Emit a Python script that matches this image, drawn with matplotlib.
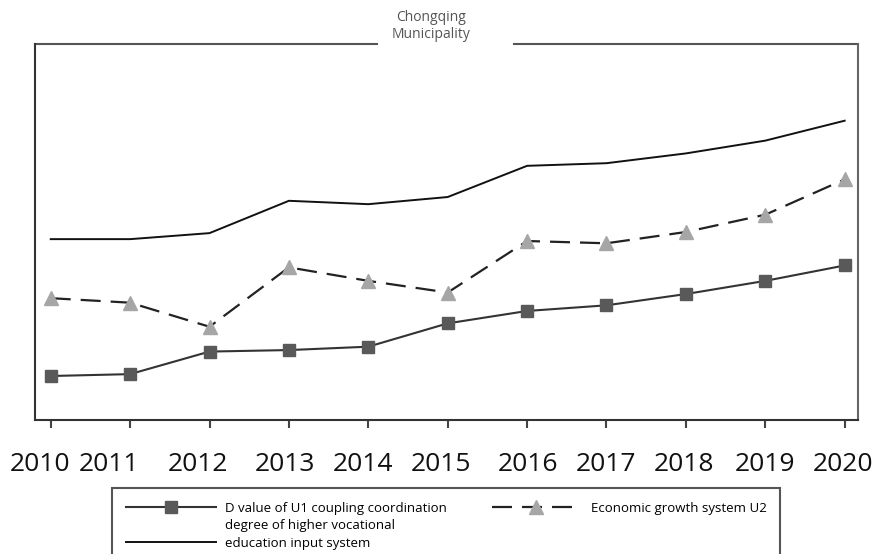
import numpy as np
import matplotlib
matplotlib.use("Agg")
import matplotlib.pyplot as plt
import matplotlib.transforms as mtransforms
from matplotlib.lines import Line2D

plt.rcParams['font.family'] = ['Open Sans', 'DejaVu Sans']

# datos (escala relativa 0-1, el eje y no tiene etiquetas)
years = [2010, 2011, 2012, 2013, 2014, 2015, 2016, 2017, 2018, 2019, 2020]
d_value = [0.117, 0.122, 0.182, 0.186, 0.195, 0.257, 0.290, 0.305, 0.335, 0.370, 0.411]
u1_education = [0.481, 0.481, 0.497, 0.583, 0.574, 0.593, 0.676, 0.683, 0.709, 0.743, 0.796]
u2_economic = [0.324, 0.312, 0.248, 0.406, 0.370, 0.339, 0.476, 0.470, 0.500, 0.546, 0.640]
year_labels = [str(y) for y in years]

# desplazamiento horizontal de las etiquetas (px), como en la figura original
label_shift_px = [-11, -21, -12, -4, -5, -7, 1, 0, -2, 0, -2]

fig = plt.figure(figsize=(8.72, 5.54), dpi=100)
ax = fig.add_axes([35 / 872, 1 - 420 / 554, 823 / 872, 376 / 554])

l_sq, = ax.plot(years, d_value, color='#333333', lw=1.5, marker='s', ms=8.5,
                mfc='#595959', mec='#595959', zorder=3)
l_tri, = ax.plot(years, u2_economic, color='#222222', lw=1.6, ls=(0, (9, 4.5)),
                 marker='^', ms=10, mfc='#a6a6a6', mec='#a6a6a6', zorder=3)
l_plain, = ax.plot(years, u1_education, color='#111111', lw=1.4, zorder=2)

ax.set_xlim(2010 - 0.198, 2020 + 0.168)
ax.set_ylim(0, 1)

ax.set_xticks(years)
ax.set_xticklabels(year_labels, fontsize=19, color='#111111')
ax.set_yticks([])
ax.tick_params(axis='x', direction='out', length=6, width=1.5, color='#444444', pad=17)

for lab, dx in zip(ax.get_xticklabels(), label_shift_px):
    off = mtransforms.ScaledTranslation(dx / 100, 0, fig.dpi_scale_trans)
    lab.set_transform(lab.get_transform() + off)

for side in ['left', 'bottom']:
    ax.spines[side].set_color('#333333')
    ax.spines[side].set_linewidth(1.5)
ax.spines['right'].set_color('#666666')
ax.spines['right'].set_linewidth(1.5)
ax.spines['top'].set_visible(False)

# borde superior con hueco para el titulo
ax.plot([0, 0.416], [1, 1], transform=ax.transAxes, color='#555555', lw=1.5, clip_on=False)
ax.plot([0.5815, 1], [1, 1], transform=ax.transAxes, color='#555555', lw=1.5, clip_on=False)

fig.text(431 / 872, 1 - 38 / 554, "Chongqing\nMunicipality", ha='center', va='baseline',
         fontsize=10, color='#555555', linespacing=1.15)

blank = Line2D([], [], alpha=0)
handles = [l_sq, blank, l_plain, l_tri, blank, blank]
labels = ['D value of U1 coupling coordination', 'degree of higher vocational',
          'education input system', 'Economic growth system U2', '', '']
leg = fig.legend(handles, labels, ncol=2, loc='upper left',
                 bbox_to_anchor=(112 / 872, 1 - 488 / 554), borderaxespad=0,
                 fontsize=9.5, handlelength=6.8, handletextpad=0.7, columnspacing=3.4,
                 labelspacing=0.35, borderpad=1.05, fancybox=False, framealpha=1,
                 edgecolor='#555555')
leg.get_frame().set_linewidth(1.5)

fig.savefig("out.png", dpi=100)
